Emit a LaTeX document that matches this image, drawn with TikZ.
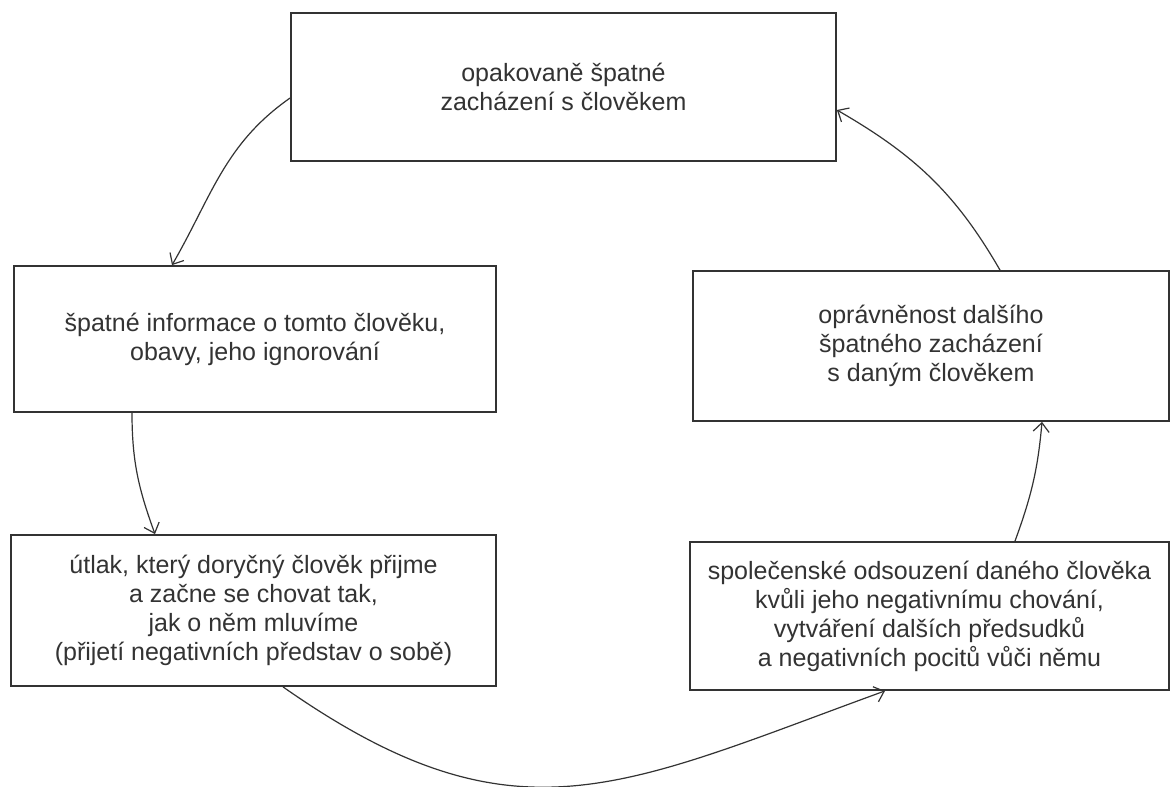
\documentclass[tikz,border=0pt]{standalone}
\usepackage{fontspec}
\setmainfont{Liberation Sans}
\usetikzlibrary{arrows.meta,calc}
\definecolor{ink}{HTML}{333333}
\begin{document}
\begin{tikzpicture}[x=1pt,y=1pt,
  box/.style={draw=ink, line width=1.8pt, inner sep=0pt, align=center, text=ink,
    font=\fontsize{25}{29}\selectfont},
  link/.style={draw=ink, line width=1.2pt, -{Straight Barb[length=9pt,width=16pt]}}]
\path[use as bounding box, fill=white] (0,0) rectangle (1173,787);
\node[box, minimum width=545pt, minimum height=148pt] (top) at (563.5,700) {opakovaně špatné\\zacházení s člověkem};
\node[box, minimum width=482pt, minimum height=146pt] (lm) at (255,448) {špatné informace o tomto člověku,\\obavy, jeho ignorování};
\node[box, minimum width=485pt, minimum height=151pt] (lb) at (253.5,176.5) {útlak, který doryčný člověk přijme\\a začne se chovat tak,\\jak o něm mluvíme\\(přijetí negativních představ o sobě)};
\node[box, minimum width=476pt, minimum height=150pt] (rm) at (931,441) {oprávněnost dalšího\\špatného zacházení\\s daným člověkem};
\node[box, minimum width=479pt, minimum height=148pt] (rb) at (929.5,171) {společenské odsouzení daného člověka\\kvůli jeho negativnímu chování,\\vytváření dalších předsudků\\a negativních pocitů vůči němu};
\draw[link] ([yshift=-11pt]top.west) to[out=215,in=60] ([xshift=-83pt]lm.north);
\draw[link] ([xshift=-123pt]lm.south) to[out=-90,in=110] ([xshift=-98.5pt]lb.north);
\draw[link] ([xshift=29.5pt]lb.south) to[out=-35,in=200,looseness=1.2] ([xshift=-44.5pt]rb.south);
\draw[link] ([xshift=85.5pt]rb.north) to[out=70,in=-95] ([xshift=111pt]rm.south);
\draw[link] ([xshift=69pt]rm.north) to[out=120,in=-30] ([yshift=-23pt]top.east);
\end{tikzpicture}
\end{document}
